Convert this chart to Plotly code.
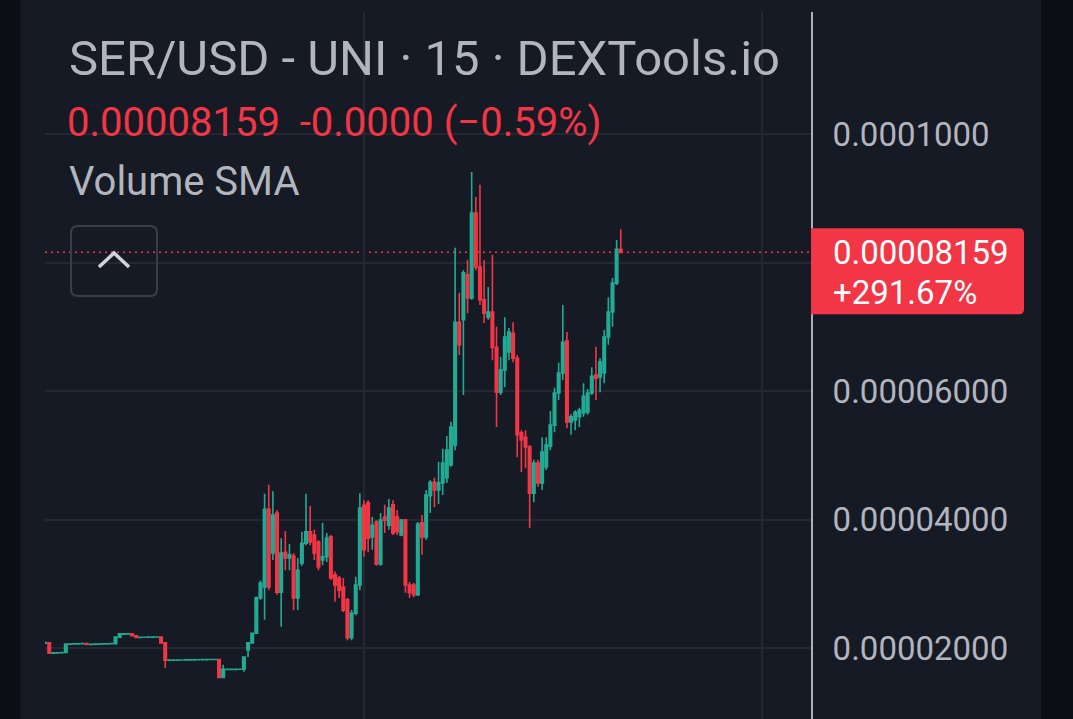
import plotly.graph_objects as go
import pandas as pd

# ---------------- data (SER/USD, 15-minute candles) ----------------
open_ = [
    2.075e-5, 2.08e-5, 1.92e-5, 1.925e-5, 1.927e-5, 1.93e-5, 2.06e-5, 2.062e-5, 2.064e-5, 2.066e-5,
    2.068e-5, 2.055e-5, 2.058e-5, 2.06e-5, 2.062e-5, 2.064e-5, 2.066e-5, 2.068e-5, 2.17e-5, 2.215e-5,
    2.22e-5, 2.222e-5, 2.19e-5, 2.165e-5, 2.167e-5, 2.168e-5, 2.17e-5, 2.171e-5, 2.172e-5, 2.08e-5,
    1.81e-5, 1.811e-5, 1.812e-5, 1.813e-5, 1.814e-5, 1.815e-5, 1.816e-5, 1.817e-5, 1.818e-5, 1.819e-5,
    1.82e-5, 1.821e-5, 1.822e-5, 1.54e-5, 1.665e-5, 1.667e-5, 1.668e-5, 1.669e-5, 1.67e-5, 1.97e-5,
    2.08e-5, 2.23e-5, 2.78e-5, 2.95e-5, 4.16e-5, 3.48e-5, 4.10e-5, 2.87e-5, 3.49e-5, 3.40e-5,
    3.43e-5, 2.78e-5, 3.32e-5, 3.63e-5, 3.81e-5, 3.76e-5, 3.65e-5, 3.37e-5, 3.42e-5, 3.73e-5,
    3.14e-5, 3.09e-5, 2.95e-5, 2.75e-5, 2.16e-5, 2.54e-5, 2.98e-5, 4.22e-5, 4.26e-5, 3.73e-5,
    3.96e-5, 3.31e-5, 4.04e-5, 3.91e-5, 4.23e-5, 4.04e-5, 3.76e-5, 3.99e-5, 2.98e-5, 2.98e-5,
    2.83e-5, 3.95e-5, 3.73e-5, 4.37e-5, 4.58e-5, 4.46e-5, 4.57e-5, 4.65e-5, 4.85e-5, 5.16e-5,
    7.07e-5, 7.11e-5, 7.81e-5, 7.45e-5, 8.77e-5, 7.93e-5, 7.42e-5, 7.15e-5, 7.23e-5, 6.68e-5,
    5.98e-5, 6.33e-5, 6.61e-5, 6.90e-5, 6.51e-5, 5.35e-5, 5.28e-5, 5.13e-5, 4.41e-5, 4.88e-5,
    4.57e-5, 4.82e-5, 5.14e-5, 5.47e-5, 5.97e-5, 6.28e-5, 6.78e-5, 5.52e-5, 5.55e-5, 5.60e-5,
    5.66e-5, 5.67e-5, 5.97e-5, 6.25e-5, 6.22e-5, 6.28e-5, 6.84e-5, 7.23e-5, 7.68e-5, 8.207e-5,
]
high = [
    2.10e-5, 2.09e-5, 1.93e-5, 1.93e-5, 1.93e-5, 2.07e-5, 2.065e-5, 2.065e-5, 2.07e-5, 2.07e-5,
    2.07e-5, 2.06e-5, 2.065e-5, 2.065e-5, 2.065e-5, 2.07e-5, 2.07e-5, 2.18e-5, 2.23e-5, 2.225e-5,
    2.225e-5, 2.225e-5, 2.195e-5, 2.17e-5, 2.17e-5, 2.175e-5, 2.175e-5, 2.175e-5, 2.175e-5, 2.085e-5,
    1.815e-5, 1.815e-5, 1.816e-5, 1.817e-5, 1.818e-5, 1.818e-5, 1.82e-5, 1.82e-5, 1.822e-5, 1.822e-5,
    1.824e-5, 1.825e-5, 1.825e-5, 1.74e-5, 1.67e-5, 1.672e-5, 1.672e-5, 1.673e-5, 1.87e-5, 2.085e-5,
    2.24e-5, 2.80e-5, 3.05e-5, 4.40e-5, 4.54e-5, 4.44e-5, 4.15e-5, 3.71e-5, 3.82e-5, 3.62e-5,
    3.48e-5, 3.40e-5, 3.81e-5, 4.40e-5, 4.21e-5, 3.84e-5, 3.68e-5, 3.95e-5, 3.79e-5, 3.76e-5,
    3.19e-5, 3.12e-5, 3.09e-5, 2.78e-5, 2.59e-5, 3.11e-5, 4.41e-5, 4.30e-5, 4.30e-5, 4.04e-5,
    3.99e-5, 4.10e-5, 4.23e-5, 4.32e-5, 4.30e-5, 4.15e-5, 4.01e-5, 4.01e-5, 3.03e-5, 3.01e-5,
    3.96e-5, 4.07e-5, 4.46e-5, 4.61e-5, 4.65e-5, 4.90e-5, 5.10e-5, 5.30e-5, 5.52e-5, 8.23e-5,
    7.53e-5, 7.88e-5, 8.04e-5, 9.41e-5, 9.02e-5, 9.21e-5, 8.04e-5, 7.62e-5, 8.12e-5, 7.00e-5,
    6.53e-5, 7.15e-5, 6.98e-5, 7.07e-5, 6.56e-5, 5.39e-5, 5.39e-5, 5.16e-5, 4.93e-5, 4.93e-5,
    5.28e-5, 5.28e-5, 5.69e-5, 6.05e-5, 6.44e-5, 7.34e-5, 6.92e-5, 5.64e-5, 5.70e-5, 5.74e-5,
    6.12e-5, 6.03e-5, 6.37e-5, 6.69e-5, 6.51e-5, 6.95e-5, 7.46e-5, 7.76e-5, 8.35e-5, 8.52e-5,
]
low = [
    2.07e-5, 1.91e-5, 1.92e-5, 1.92e-5, 1.92e-5, 1.92e-5, 2.055e-5, 2.055e-5, 2.06e-5, 2.06e-5,
    2.05e-5, 2.05e-5, 2.055e-5, 2.055e-5, 2.06e-5, 2.06e-5, 2.06e-5, 2.06e-5, 2.165e-5, 2.21e-5,
    2.215e-5, 2.185e-5, 2.16e-5, 2.16e-5, 2.16e-5, 2.165e-5, 2.165e-5, 2.165e-5, 2.075e-5, 1.69e-5,
    1.805e-5, 1.805e-5, 1.808e-5, 1.808e-5, 1.81e-5, 1.81e-5, 1.81e-5, 1.812e-5, 1.814e-5, 1.815e-5,
    1.815e-5, 1.815e-5, 1.53e-5, 1.53e-5, 1.66e-5, 1.662e-5, 1.662e-5, 1.664e-5, 1.63e-5, 1.86e-5,
    2.07e-5, 2.22e-5, 2.75e-5, 2.44e-5, 2.90e-5, 3.37e-5, 2.83e-5, 2.33e-5, 3.21e-5, 3.21e-5,
    2.59e-5, 2.59e-5, 3.28e-5, 3.60e-5, 3.60e-5, 3.37e-5, 3.21e-5, 3.29e-5, 3.34e-5, 3.06e-5,
    2.72e-5, 2.78e-5, 2.56e-5, 2.12e-5, 2.12e-5, 2.51e-5, 2.90e-5, 3.42e-5, 3.49e-5, 3.53e-5,
    3.28e-5, 3.28e-5, 3.79e-5, 3.84e-5, 3.76e-5, 3.76e-5, 3.74e-5, 2.86e-5, 2.78e-5, 2.79e-5,
    2.81e-5, 3.45e-5, 3.68e-5, 4.10e-5, 4.19e-5, 4.24e-5, 4.38e-5, 4.57e-5, 4.82e-5, 5.08e-5,
    6.56e-5, 5.94e-5, 7.21e-5, 7.42e-5, 7.88e-5, 7.34e-5, 7.06e-5, 7.11e-5, 6.48e-5, 5.44e-5,
    5.94e-5, 6.06e-5, 6.48e-5, 6.45e-5, 4.97e-5, 4.74e-5, 4.80e-5, 3.87e-5, 4.27e-5, 4.51e-5,
    4.46e-5, 4.77e-5, 5.08e-5, 5.36e-5, 5.86e-5, 6.17e-5, 5.42e-5, 5.32e-5, 5.39e-5, 5.44e-5,
    5.60e-5, 5.63e-5, 5.94e-5, 5.86e-5, 5.98e-5, 6.12e-5, 6.72e-5, 7.00e-5, 7.65e-5, 8.15e-5,
]
close = [
    2.08e-5, 1.92e-5, 1.925e-5, 1.927e-5, 1.93e-5, 2.06e-5, 2.062e-5, 2.064e-5, 2.066e-5, 2.068e-5,
    2.055e-5, 2.058e-5, 2.06e-5, 2.062e-5, 2.064e-5, 2.066e-5, 2.068e-5, 2.17e-5, 2.22e-5, 2.22e-5,
    2.222e-5, 2.19e-5, 2.165e-5, 2.167e-5, 2.168e-5, 2.17e-5, 2.171e-5, 2.172e-5, 2.08e-5, 1.81e-5,
    1.811e-5, 1.812e-5, 1.813e-5, 1.814e-5, 1.815e-5, 1.816e-5, 1.817e-5, 1.818e-5, 1.819e-5, 1.82e-5,
    1.821e-5, 1.822e-5, 1.54e-5, 1.67e-5, 1.667e-5, 1.668e-5, 1.669e-5, 1.67e-5, 1.86e-5, 2.08e-5,
    2.23e-5, 2.78e-5, 3.01e-5, 4.16e-5, 2.95e-5, 4.07e-5, 2.87e-5, 3.48e-5, 3.40e-5, 3.45e-5,
    2.78e-5, 3.21e-5, 3.63e-5, 3.81e-5, 3.65e-5, 3.48e-5, 3.26e-5, 3.42e-5, 3.71e-5, 3.09e-5,
    2.98e-5, 2.90e-5, 2.59e-5, 2.16e-5, 2.54e-5, 2.98e-5, 4.18e-5, 3.53e-5, 3.71e-5, 3.91e-5,
    3.31e-5, 3.99e-5, 3.99e-5, 4.18e-5, 3.79e-5, 3.81e-5, 3.99e-5, 2.98e-5, 2.86e-5, 2.83e-5,
    3.93e-5, 3.73e-5, 4.38e-5, 4.58e-5, 4.46e-5, 4.57e-5, 4.88e-5, 5.08e-5, 5.44e-5, 7.07e-5,
    6.72e-5, 7.84e-5, 7.45e-5, 8.77e-5, 7.93e-5, 7.42e-5, 7.21e-5, 7.23e-5, 6.68e-5, 5.98e-5,
    6.33e-5, 6.84e-5, 6.92e-5, 6.51e-5, 5.32e-5, 5.24e-5, 5.13e-5, 4.41e-5, 4.88e-5, 4.57e-5,
    5.05e-5, 5.16e-5, 5.47e-5, 5.97e-5, 6.28e-5, 6.76e-5, 5.52e-5, 5.60e-5, 5.67e-5, 5.70e-5,
    5.92e-5, 5.97e-5, 6.23e-5, 6.20e-5, 6.45e-5, 6.84e-5, 7.23e-5, 7.68e-5, 8.207e-5, 8.159e-5,
]
times = pd.date_range("2024-03-10 04:45", periods=len(close), freq="15min")

y_tick_vals = [0.00002, 0.00004, 0.00006, 0.00008, 0.0001]
y_tick_text = ["0.00002000", "0.00004000", "0.00006000", "", "0.0001000"]
day_lines = ["2024-03-11 00:00", "2024-03-12 00:00"]

title_text = "SER/USD - UNI · 15 · DEXTools.io"
change_text = "0.00008159\u00a0 -0.0000 (\u22120.59%)"
indicator_text = "Volume SMA"
badge_price = "0.00008159"
badge_change = "+291.67%"

# ---------------- styling ----------------
W, H = 1073, 719
PL, PR, PT, PB = 45, 811, 12, 719
BG = "#161a25"
STRIP = "#0c0f15"
GRID = "#242833"
TXT = "#b2b5be"
UP = "#22ab94"
DOWN = "#f23645"
FONT = "Roboto"


def px(x):
    return (x - PL) / (PR - PL)


def py(y):
    return (PB - y) / (PB - PT)


fig = go.Figure()
fig.add_trace(go.Candlestick(
    x=times, open=open_, high=high, low=low, close=close,
    increasing=dict(line=dict(color=UP, width=1.6), fillcolor=UP),
    decreasing=dict(line=dict(color=DOWN, width=1.6), fillcolor=DOWN),
    whiskerwidth=0, hoverinfo="skip", showlegend=False,
))

shapes = [
    # dark side strips
    dict(type="rect", xref="paper", yref="paper", x0=px(-10), x1=px(20.5), y0=py(760), y1=py(-40),
         fillcolor=STRIP, line=dict(width=0), layer="below"),
    dict(type="rect", xref="paper", yref="paper", x0=px(1041), x1=px(1090), y0=py(760), y1=py(-40),
         fillcolor=STRIP, line=dict(width=0), layer="below"),
    # last price dotted line
    dict(type="line", xref="paper", yref="y", x0=0, x1=1, y0=close[-1], y1=close[-1],
         line=dict(color=DOWN, width=1.5, dash="2px,4px"), layer="below"),
    # price badge
    dict(type="path", xref="paper", yref="y", xsizemode="pixel", ysizemode="pixel",
         xanchor=1, yanchor=close[-1],
         path="M0,24 L208,24 Q213,24 213,19 L213,-57 Q213,-62 208,-62 L0,-62 Z",
         fillcolor=DOWN, line=dict(width=0), layer="above"),
]

# collapse button (rounded rectangle + chevron)
bx0, bx1, by0, by1, r = 71, 157, 226, 296, 7
btn = (f"M{px(bx0 + r)},{py(by0)} L{px(bx1 - r)},{py(by0)} Q{px(bx1)},{py(by0)} {px(bx1)},{py(by0 + r)} "
       f"L{px(bx1)},{py(by1 - r)} Q{px(bx1)},{py(by1)} {px(bx1 - r)},{py(by1)} "
       f"L{px(bx0 + r)},{py(by1)} Q{px(bx0)},{py(by1)} {px(bx0)},{py(by1 - r)} "
       f"L{px(bx0)},{py(by0 + r)} Q{px(bx0)},{py(by0)} {px(bx0 + r)},{py(by0)} Z")
shapes.append(dict(type="path", xref="paper", yref="paper", path=btn,
                   fillcolor="rgba(0,0,0,0)", line=dict(color="#3a3e4a", width=2), layer="above"))
chev = f"M{px(99)},{py(267)} L{px(114)},{py(253)} L{px(129)},{py(267)}"
shapes.append(dict(type="path", xref="paper", yref="paper", path=chev,
                   line=dict(color="#d1d4dc", width=3.5), layer="above"))

annotations = [
    dict(text=title_text, xref="paper", yref="paper", x=px(67), y=py(59), xanchor="left", yanchor="middle",
         showarrow=False, font=dict(family=FONT, size=49, color=TXT)),
    dict(text=change_text, xref="paper", yref="paper", x=px(65), y=py(122), xanchor="left", yanchor="middle",
         showarrow=False, font=dict(family=FONT, size=40, color=DOWN)),
    dict(text=indicator_text, xref="paper", yref="paper", x=px(67), y=py(182), xanchor="left", yanchor="middle",
         showarrow=False, font=dict(family=FONT, size=40, color=TXT)),
    dict(text=badge_price, xref="paper", yref="y", x=1, y=close[-1], xanchor="left", yanchor="middle",
         xshift=20, yshift=0, showarrow=False, font=dict(family=FONT, size=33, color="#ffffff")),
    dict(text=badge_change, xref="paper", yref="y", x=1, y=close[-1], xanchor="left", yanchor="middle",
         xshift=20, yshift=-40, showarrow=False, font=dict(family=FONT, size=33, color="#ffffff")),
]

fig.update_layout(
    width=W, height=H,
    margin=dict(l=PL, r=W - PR, t=PT, b=H - PB, pad=0),
    paper_bgcolor=BG, plot_bgcolor=BG,
    font=dict(family=FONT, color=TXT),
    shapes=shapes, annotations=annotations,
    showlegend=False,
    boxgap=0.15,
)
fig.update_xaxes(
    type="date",
    range=["2024-03-10 04:44:38", "2024-03-12 02:58:57"],
    rangeslider=dict(visible=False),
    tickvals=day_lines, showticklabels=False, ticks="",
    showgrid=True, gridcolor=GRID, gridwidth=1.5,
    zeroline=False, showline=False,
)
fig.update_yaxes(
    side="right",
    range=[0.00000895, 0.000119],
    tickvals=y_tick_vals, ticktext=y_tick_text, ticks="",
    ticklabelstandoff=13,
    tickfont=dict(family=FONT, size=33, color=TXT),
    showgrid=True, gridcolor=GRID, gridwidth=1.5,
    zeroline=False, showline=True, linecolor="#aeb1b9", linewidth=2,
)

fig.write_html(
    "out.html",
    config={"displayModeBar": False},
    post_script="document.body.style.margin='0';document.body.style.background='" + BG + "';",
)
